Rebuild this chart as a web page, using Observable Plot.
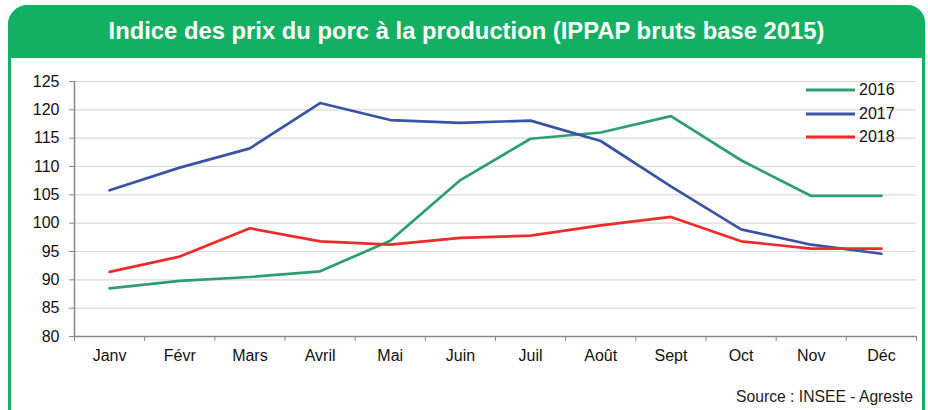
<!DOCTYPE html>
<html><head><meta charset="utf-8">
<script src="https://cdn.jsdelivr.net/npm/d3@7"></script>
<script src="https://cdn.jsdelivr.net/npm/@observablehq/plot@0.6"></script>
<style>
html,body{margin:0;padding:0;}
body{width:928px;height:410px;overflow:hidden;background:#fff;position:relative;font-family:"Liberation Sans",Arial,sans-serif;color:#111;}
#frame{position:absolute;left:8px;top:5px;width:911px;height:440px;border:3px solid #13AF62;border-radius:20px 18px 0 0;box-sizing:content-box;}
#header{position:absolute;left:8px;top:5px;width:917px;height:53px;background:#13AF62;border-radius:20px 18px 0 0;color:#fff;font-weight:bold;font-size:23.8px;line-height:51px;text-align:center;}
#chart{position:absolute;left:0;top:58px;}
#legend{position:absolute;left:806px;top:80px;font-size:16px;}
.item{position:absolute;left:0;height:20px;width:110px;}
.item svg{position:absolute;left:0;top:0;}
.item span{position:absolute;left:53px;top:1px;line-height:18px;}
#caption{position:absolute;right:15px;top:388px;font-size:15.7px;line-height:18px;color:#222;}
</style>
</head><body>
<div id="frame"></div>
<div id="header">Indice des prix du porc à la production (IPPAP bruts base 2015)</div>
<div id="chart"></div>
<div id="legend"></div>
<div id="caption">Source : INSEE - Agreste</div>
<script>
const months = ["Janv","Févr","Mars","Avril","Mai","Juin","Juil","Août","Sept","Oct","Nov","Déc"];
const years = ["2016","2017","2018"];
const v2016 = [88.5, 89.8, 90.5, 91.5, 96.9, 107.6, 114.9, 116.0, 118.9, 111.1, 104.8, 104.8];
const v2017 = [105.8, 109.8, 113.2, 121.2, 118.2, 117.7, 118.1, 114.5, 106.5, 98.9, 96.2, 94.6];
const v2018 = [91.4, 94.1, 99.1, 96.8, 96.2, 97.4, 97.8, 99.6, 101.1, 96.8, 95.5, 95.5];
const yTicks = [80, 85, 90, 95, 100, 105, 110, 115, 120, 125];
const colors = ["#2E9F6C", "#3A53A4", "#EE2B2B"];

const series = [v2016, v2017, v2018];
const data = years.flatMap((y, k) => series[k].map((v, i) => ({year: y, i, month: months[i], value: v})));
const boundaries = d3.range(0, months.length + 1);
const centers = months.map((m, i) => i + 0.5);

const chart = Plot.plot({
  width: 928,
  height: 352,
  marginLeft: 74,
  marginRight: 12,
  marginTop: 23,
  marginBottom: 74,
  style: {fontFamily: '"Liberation Sans", Arial, sans-serif', fontSize: "16px", color: "#111", background: "transparent", overflow: "visible"},
  x: {type: "linear", domain: [0, months.length]},
  y: {domain: [yTicks[0], yTicks[yTicks.length - 1]]},
  color: {domain: years, range: colors},
  marks: [
    Plot.gridY({ticks: yTicks, stroke: "#d9d9d9", strokeOpacity: 1, strokeWidth: 1.2}),
    Plot.axisY({ticks: yTicks, tickSize: 5, tickPadding: 10, stroke: "#888", label: null, fontSize: 16}),
    Plot.axisX({ticks: boundaries, tickSize: 5, tickFormat: () => "", stroke: "#888", label: null}),
    Plot.axisX({ticks: centers, tickSize: 0, tickPadding: 13, tickFormat: d => months[Math.round(d - 0.5)], label: null, fontSize: 16}),
    Plot.ruleX([0], {stroke: "#888", strokeWidth: 1.5}),
    Plot.ruleY([yTicks[0]], {stroke: "#888", strokeWidth: 1.5}),
    Plot.line(data, {x: d => d.i + 0.5, y: "value", z: "year", stroke: "year", strokeWidth: 2.7})
  ]
});
document.getElementById("chart").appendChild(chart);

const legend = document.getElementById("legend");
years.forEach((y, k) => {
  const item = document.createElement("div");
  item.className = "item";
  item.style.top = (k * 23.5) + "px";
  item.innerHTML = `<svg width="50" height="20"><line x1="0" x2="49" y1="10" y2="10" stroke="${colors[k]}" stroke-width="3"/></svg><span>${y}</span>`;
  legend.appendChild(item);
});
</script>
</body></html>
